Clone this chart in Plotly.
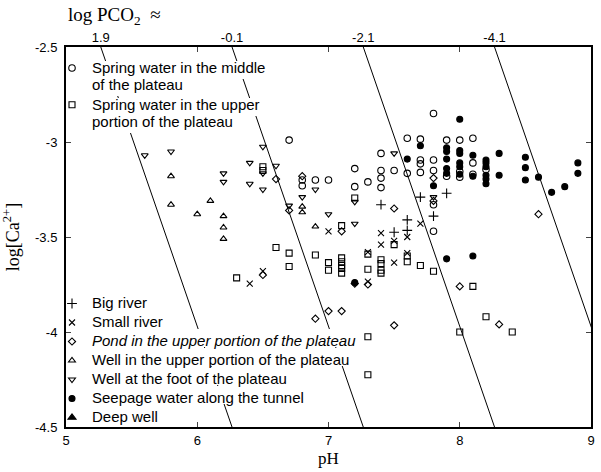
import plotly.graph_objects as go

# ---------------- data ----------------
spring_mid_ph = [6.7, 6.8, 6.8, 6.9, 7.0, 7.2, 7.2, 7.3, 7.4, 7.4, 7.4, 7.4, 7.5, 7.6, 7.6,
                 7.7, 7.7, 7.7, 7.7, 7.8, 7.8, 7.8, 7.8, 7.8, 7.9, 7.9, 8.0, 8.0, 8.0,
                 8.1, 8.1, 8.1, 8.2]
spring_mid_ca = [-2.99, -3.20, -3.23, -3.20, -3.20, -3.14, -3.235, -3.21, -3.06, -3.15, -3.19, -3.24,
                 -3.15, -2.98, -3.165, -2.985, -3.095, -3.115, -3.16, -2.85, -3.095, -3.15, -3.33,
                 -3.47, -2.99, -3.18, -2.99, -3.155, -3.185, -2.98, -3.11, -3.17, -3.145]

spring_up_ph = [6.3, 6.5, 6.5, 6.6, 6.7, 6.7, 6.9, 7.0, 7.0, 7.1, 7.1, 7.1, 7.1, 7.1, 7.1, 7.2,
                7.3, 7.3, 7.3, 7.3, 7.4, 7.4, 7.4, 7.4, 7.5, 7.6, 7.6, 7.7, 7.8, 8.0, 8.1, 8.2, 8.4]
spring_up_ca = [-3.715, -3.13, -3.15, -3.555, -3.585, -3.655, -3.595, -3.635, -3.675, -3.44, -3.61,
                -3.63, -3.65, -3.665, -3.69, -3.295, -3.59, -3.67, -4.025, -4.225, -3.62, -3.64,
                -3.675, -3.69, -3.54, -3.60, -3.63, -3.65, -3.68, -4.0, -3.76, -3.92, -4.0]

big_river_ph = [7.4, 7.5, 7.6, 7.6, 7.7, 7.8, 7.9]
big_river_ca = [-3.33, -3.475, -3.41, -3.465, -3.29, -3.39, -3.27]

small_river_ph = [6.4, 6.5, 7.0, 7.3, 7.3, 7.4, 7.4, 7.5, 7.5, 7.6, 7.6, 7.7]
small_river_ca = [-3.745, -3.68, -3.47, -3.58, -3.735, -3.48, -3.54, -3.52, -3.635, -3.50, -3.585, -3.43]

pond_ph = [6.5, 6.6, 6.7, 6.8, 6.9, 7.0, 7.1, 7.1, 7.2, 7.3, 7.5, 7.5, 7.8, 7.8, 8.0, 8.3, 8.6]
pond_ca = [-3.70, -3.195, -3.36, -3.18, -3.93, -3.89, -3.47, -3.89, -3.745, -3.75, -3.35, -3.965,
           -3.19, -3.31, -3.76, -3.96, -3.38]

well_up_ph = [5.8, 5.8, 6.0, 6.1, 6.2, 6.2, 6.2, 6.8, 6.8, 6.9]
well_up_ca = [-3.18, -3.33, -3.38, -3.31, -3.39, -3.45, -3.51, -3.34, -3.37, -3.445]

well_foot_ph = [5.6, 5.8, 6.2, 6.2, 6.4, 6.4, 6.5, 6.5, 6.5, 6.6, 6.7, 6.8, 6.9, 7.0, 7.2, 7.2, 7.5, 7.8]
well_foot_ca = [-3.07, -3.05, -3.165, -3.21, -3.11, -3.22, -3.025, -3.165, -3.25, -3.125, -3.335,
                -3.29, -3.25, -3.38, -3.315, -3.43, -3.06, -3.29]

seepage_ph = [7.2, 7.6, 7.7, 7.8, 7.9, 7.9, 7.9, 7.9, 7.9, 7.9, 8.0, 8.0, 8.0, 8.0, 8.0, 8.0,
              8.1, 8.1, 8.1, 8.2, 8.2, 8.2, 8.2, 8.2, 8.2, 8.3, 8.3, 8.5, 8.5, 8.5, 8.6, 8.7,
              8.8, 8.9, 8.9]
seepage_ca = [-3.74, -3.09, -3.02, -3.23, -3.03, -3.05, -3.09, -3.14, -3.165, -3.615, -2.88, -3.045,
              -3.06, -3.11, -3.13, -3.17, -3.07, -3.18, -3.60, -3.095, -3.11, -3.13, -3.175, -3.195,
              -3.22, -3.06, -3.175, -3.08, -3.135, -3.20, -3.185, -3.265, -3.235, -3.11, -3.165]

# no deep-well sample is visible inside the plotted window (legend entry only)
deep_well_ph = [None]
deep_well_ca = [None]

# equilibrium lines: log[Ca] = K - log PCO2 - 2 pH
log_pco2 = [1.9, -0.1, -2.1, -4.1]
log_pco2_labels = ["1.9", "-0.1", "-2.1", "-4.1"]
K_EQ = 9.93
ca_range = [-4.5, -2.5]
ph_ticks = [5, 6, 7, 8, 9]
ca_ticks = [-2.5, -3, -3.5, -4, -4.5]
ca_ticklabels = ["-2.5", "-3", "-3.5", "-4", "-4.5"]

# ---------------- figure ----------------
W, H = 601, 472
L, R, T, B = 66, 10, 47, 45
PW, PH = W - L - R, H - T - B

def px2paper(x, y):
    return (x - L) / PW, (H - B - y) / PH

SANS = "Liberation Sans, Arial, sans-serif"
SERIF = "Liberation Serif, Times New Roman, serif"
TXT = 15

def lab(s):
    return "<br>".join(f"<span style='font-size:{TXT}px'>{p}</span>" for p in s.split("<br>"))

fig = go.Figure()

# equilibrium lines
for lp in log_pco2:
    xs = [(K_EQ - lp - c) / 2 for c in (ca_range[1], ca_range[0])]
    fig.add_trace(go.Scatter(x=xs, y=[ca_range[1], ca_range[0]], mode="lines",
                             line=dict(color="black", width=1), showlegend=False,
                             hoverinfo="skip", xaxis="x2"))

series = [
    ("Spring water in the middle<br>of the plateau", spring_mid_ph, spring_mid_ca,
     dict(symbol="circle-open", size=6.5), "legend"),
    ("Spring water in the upper<br>portion of the plateau", spring_up_ph, spring_up_ca,
     dict(symbol="square-open", size=6), "legend"),
    ("Big river", big_river_ph, big_river_ca,
     dict(symbol="cross-thin-open", size=7), "legend2"),
    ("Small river", small_river_ph, small_river_ca,
     dict(symbol="x-thin-open", size=6), "legend2"),
    ("<i>Pond in the upper portion of the plateau</i>", pond_ph, pond_ca,
     dict(symbol="diamond-open", size=5.5), "legend2"),
    ("Well in the upper portion of the plateau", well_up_ph, well_up_ca,
     dict(symbol="triangle-up-open", size=6), "legend2"),
    ("Well at the foot of the plateau", well_foot_ph, well_foot_ca,
     dict(symbol="triangle-down-open", size=6), "legend2"),
    ("Seepage water along the tunnel", seepage_ph, seepage_ca,
     dict(symbol="circle", size=6), "legend2"),
    ("Deep well", deep_well_ph, deep_well_ca,
     dict(symbol="triangle-up", size=7), "legend2"),
]
for name, xs, ys, mk, lg in series:
    mk = dict(mk, color="black", line=dict(color="black", width=1.1))
    fig.add_trace(go.Scatter(x=xs, y=ys, mode="markers", name=lab(name), marker=mk,
                             legend=lg, showlegend=True))

# white masks behind legend text rows (the equilibrium lines are hidden there in the source)
mask_rows = [(90, 268, 61, 79), (90, 184, 79, 96), (90, 266, 98, 116), (90, 202, 116, 133),
             (90, 360, 329, 347), (90, 356, 348, 366), (90, 296, 367, 385), (90, 310, 386, 404),
             (90, 162, 405, 423)]
for x0, x1, y0, y1 in mask_rows:
    a0, b0 = px2paper(x0, y1)
    a1, b1 = px2paper(x1, y0)
    fig.add_shape(type="rect", xref="paper", yref="paper", x0=a0, x1=a1, y0=b0, y1=b1,
                  fillcolor="white", line=dict(width=0), layer="above")

lx, ly = px2paper(52, 53)
lx2, ly2 = px2paper(52, 289)

fig.add_annotation(text="log PCO<sub>2</sub>  ≈", xref="paper", yref="paper",
                   x=px2paper(66, 0)[0], y=px2paper(0, 16)[1], xanchor="left", yanchor="middle",
                   showarrow=False, font=dict(family=SERIF, size=19, color="black"))

fig.update_layout(
    width=W, height=H, margin=dict(l=L, r=R, t=T, b=B, autoexpand=False),
    paper_bgcolor="white", plot_bgcolor="white",
    font=dict(family=SANS, size=13, color="black"),
    xaxis=dict(range=[5, 9], tickvals=ph_ticks, ticks="inside", ticklen=5, tickwidth=1,
               showline=True, linewidth=2, linecolor="black", mirror="ticks",
               showgrid=False, zeroline=False, automargin=False,
               title=dict(text="pH", font=dict(family=SERIF, size=17), standoff=6)),
    xaxis2=dict(range=[5, 9], overlaying="x", side="top", automargin=False,
                tickvals=[(K_EQ - lp - ca_range[1]) / 2 for lp in log_pco2],
                ticktext=log_pco2_labels, ticks="", showline=False, showgrid=False,
                zeroline=False, ticklabelstandoff=1),
    yaxis=dict(range=ca_range, tickvals=ca_ticks, ticktext=ca_ticklabels, ticks="inside",
               ticklen=5, tickwidth=1, showline=True, linewidth=2, linecolor="black",
               mirror="ticks", showgrid=False, zeroline=False, automargin=False,
               ticklabelstandoff=4,
               title=dict(text="log[Ca<sup>2+</sup>]", font=dict(family=SERIF, size=18),
                          standoff=18)),
    legend=dict(x=lx, y=ly, xanchor="left", yanchor="top", bgcolor="rgba(0,0,0,0)",
                font=dict(family=SANS, size=13), itemwidth=30, valign="top",
                tracegroupgap=0, itemclick=False),
    legend2=dict(x=lx2, y=ly2, xanchor="left", yanchor="top", bgcolor="rgba(0,0,0,0)",
                 font=dict(family=SANS, size=12), itemwidth=30, tracegroupgap=0,
                 itemclick=False),
    showlegend=True,
)

# remove the browser's default 8px page margin so the 601x472 figure fills the window
fig.write_html("out.html", config={"displayModeBar": False},
               post_script="document.body.style.margin='0px';")
